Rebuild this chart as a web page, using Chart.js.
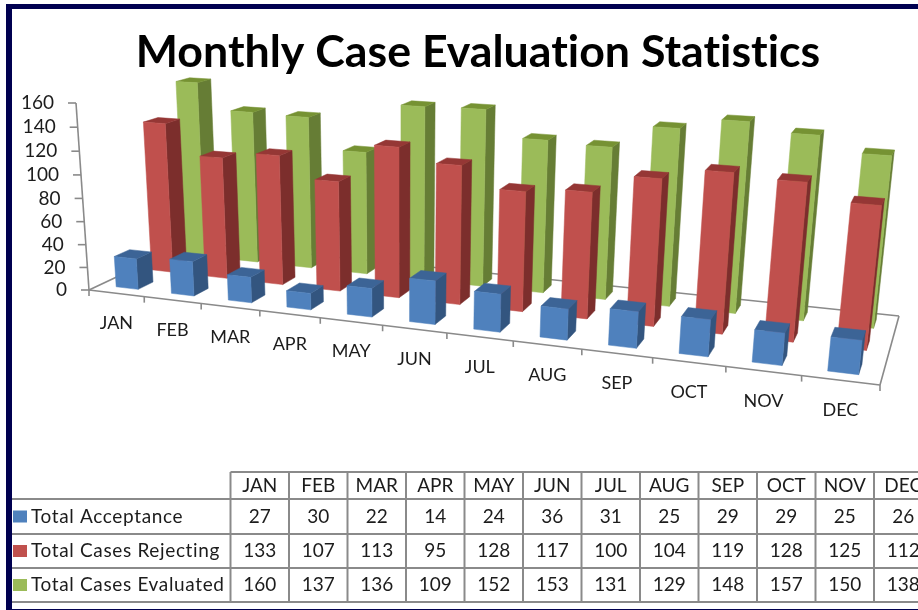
<!DOCTYPE html>
<html>
<head>
<meta charset="utf-8">
<style>html,body{margin:0;padding:0;background:#fff}#w{position:relative;width:918px;height:610px;overflow:hidden}canvas{display:block}</style>
<script src="https://cdn.jsdelivr.net/npm/chart.js@4"></script>
</head>
<body>
<div id="w"><canvas id="c" width="918" height="610"></canvas></div>
<script>
const months = ['JAN','FEB','MAR','APR','MAY','JUN','JUL','AUG','SEP','OCT','NOV','DEC'];
const acceptance = [27,30,22,14,24,36,31,25,29,29,25,26];
const rejecting = [133,107,113,95,128,117,100,104,119,128,125,112];
const evaluated = [160,137,136,109,152,153,131,129,148,157,150,138];
const seriesNames = ['Total Acceptance','Total Cases Rejecting','Total Cases Evaluated'];
const faceColors = ['#4F81BD','#C0504D','#9BBB59'];
const sideColors = ['#33557F','#7C2E2C','#667D35'];
const topColors = ['#3C6496','#953735','#769233'];

const FONT = 'Lato, Carlito, sans-serif';
const TEXT = '#1c1c1c';
const AXIS = '#8a8a8a';

// perspective view of the chart's box: floor corners (front-left, front-right, back-right, back-left)
const Q = {A:[89,290], B:[880,385], C:[899,316], D:[191,242], top:[76,103], c:-0.04};
const view = (() => {
  const {A,B,C,D,top,c} = Q;
  const dx1=B[0]-C[0], dx2=D[0]-C[0], sx=A[0]-B[0]+C[0]-D[0];
  const dy1=B[1]-C[1], dy2=D[1]-C[1], sy=A[1]-B[1]+C[1]-D[1];
  const den=dx1*dy2-dx2*dy1;
  const g=(sx*dy2-dx2*sy)/den, h=(dx1*sy-sx*dy1)/den;
  const ax=B[0]-A[0]+g*B[0], bx=D[0]-A[0]+h*D[0];
  const ay=B[1]-A[1]+g*B[1], by=D[1]-A[1]+h*D[1];
  const ez=top[0]*(1+c)-A[0], fz=top[1]*(1+c)-A[1];
  return (u,d,z)=>{
    const w=1+g*u+h*d+c*z;
    return [(A[0]+ax*u+bx*d+ez*z)/w,(A[1]+ay*u+by*d+fz*z)/w];
  };
})();

const DEPTH_CENTERS = [1/6,1/2,5/6];
const DEPTH_HALF = 0.07;
let activeSeries = 0, activeArea = null;

function poly(ctx,pts,fill){
  ctx.beginPath();
  pts.forEach((p,i)=>i?ctx.lineTo(p[0],p[1]):ctx.moveTo(p[0],p[1]));
  ctx.closePath();
  ctx.fillStyle=fill;
  ctx.fill();
  ctx.strokeStyle=fill;
  ctx.lineWidth=0.5;
  ctx.stroke();
}

// Each bar keeps the position the library's scales gave it, seen through the view above
Chart.BarElement.prototype.draw = function(ctx){
  const a=activeArea, i=activeSeries;
  const u0=(this.x-this.width/2-a.left)/a.width, u1=(this.x+this.width/2-a.left)/a.width;
  const z=(this.base-this.y)/a.height;
  const d0=DEPTH_CENTERS[i]-DEPTH_HALF, d1=DEPTH_CENTERS[i]+DEPTH_HALF;
  poly(ctx,[view(u1,d0,0),view(u1,d1,0),view(u1,d1,z),view(u1,d0,z)],sideColors[i]);
  poly(ctx,[view(u0,d0,z),view(u1,d0,z),view(u1,d1,z),view(u0,d1,z)],topColors[i]);
  poly(ctx,[view(u0,d0,0),view(u1,d0,0),view(u1,d0,z),view(u0,d0,z)],faceColors[i]);
};

function line(ctx,x1,y1,x2,y2){ctx.beginPath();ctx.moveTo(x1,y1);ctx.lineTo(x2,y2);ctx.stroke();}

const box3d = {
  id:'box3d',
  beforeDraw(chart){ chart.ctx.textRendering='optimizeSpeed'; },
  beforeDatasetDraw(chart,args){ activeSeries=args.index; activeArea=chart.chartArea; },
  beforeDatasetsDraw(chart){
    const ctx=chart.ctx, a=chart.chartArea, sy=chart.scales.y, sx=chart.scales.x;
    ctx.save();
    ctx.strokeStyle=AXIS; ctx.lineWidth=1.6;
    const P=(u,d,z)=>view(u,d,z);
    const seg=(p,q)=>line(ctx,p[0],p[1],q[0],q[1]);
    seg(P(0,0,0),P(1,0,0)); seg(P(1,0,0),P(1,1,0)); seg(P(1,1,0),P(0,1,0)); seg(P(0,1,0),P(0,0,0));
    seg(P(0,0,0),P(0,0,1));
    ctx.textAlign='right'; ctx.textBaseline='middle'; ctx.font='19px '+FONT; ctx.fillStyle=TEXT;
    sy.ticks.forEach(t=>{
      const z=(a.bottom-sy.getPixelForValue(t.value))/a.height;
      const p=P(0,0,z);
      line(ctx,p[0]-8,p[1],p[0],p[1]);
      ctx.fillText(String(t.value),p[0]-22,p[1]);
    });
    for(let k=0;k<=months.length;k++){
      const p=P(k/months.length,0,0);
      line(ctx,p[0],p[1],p[0],p[1]+6);
    }
    ctx.textAlign='center'; ctx.font='18px '+FONT;
    months.forEach((m,k)=>{
      const u=(sx.getPixelForValue(k)-a.left)/a.width;
      const p=P(u,0,0);
      ctx.fillText(m,p[0],p[1]+30);
    });
    ctx.restore();
  },
  afterDraw(chart){
    const ctx=chart.ctx;
    ctx.save();
    // data table
    const L=[12,230.5], colW=58.5, rows=[472,499,534,568,602], R=918;
    ctx.strokeStyle=AXIS; ctx.lineWidth=2;
    rows.forEach((y,i)=>line(ctx,i===0?L[1]:L[0],y,R,y));
    for(let k=0;k<=months.length;k++){
      const x=L[1]+k*colW;
      line(ctx,x,rows[0],x,rows[4]);
    }
    ctx.fillStyle=TEXT; ctx.textBaseline='middle'; ctx.textAlign='center'; ctx.font='19px '+FONT;
    const mid=i=>(rows[i]+rows[i+1])/2;
    months.forEach((m,k)=>ctx.fillText(m,L[1]+(k+.5)*colW,mid(0)));
    chart.data.datasets.forEach((ds,i)=>{
      ctx.fillStyle=faceColors[i];
      ctx.fillRect(13,mid(i+1)-6,14,12);
      ctx.fillStyle=TEXT;
      ctx.textAlign='left';
      ctx.letterSpacing='0.65px';
      ctx.fillText(seriesNames[i],31,mid(i+1));
      ctx.letterSpacing='0px';
      ctx.textAlign='center';
      ds.data.forEach((v,k)=>ctx.fillText(String(v),L[1]+(k+.5)*colW,mid(i+1)));
    });
    // frame
    ctx.fillStyle='#000050';
    ctx.fillRect(6,4,912,5);
    ctx.fillRect(6,4,6,606);
    ctx.fillRect(6,609,912,1);
    ctx.restore();
  }
};

new Chart(document.getElementById('c'),{
  type:'bar',
  plugins:[box3d],
  data:{labels:months,datasets:[
    {label:seriesNames[0],data:acceptance,backgroundColor:faceColors[0],clip:false},
    {label:seriesNames[1],data:rejecting,backgroundColor:faceColors[1],clip:false},
    {label:seriesNames[2],data:evaluated,backgroundColor:faceColors[2],clip:false}
  ]},
  options:{
    responsive:false,animation:false,
    layout:{padding:{left:76,right:38,bottom:320,top:0}},
    datasets:{bar:{grouped:false,categoryPercentage:1,barPercentage:0.4}},
    plugins:{
      legend:{display:false},tooltip:{enabled:false},
      title:{display:true,text:'Monthly Case Evaluation Statistics',color:'#000',
        font:{family:FONT,size:44.7,weight:'bold',lineHeight:1.2},padding:{top:26,bottom:28}}
    },
    scales:{
      x:{ticks:{display:false},grid:{display:false},border:{display:false}},
      y:{min:0,max:160,ticks:{display:false,stepSize:20},grid:{display:false},border:{display:false}}
    }
  }
});
</script>
</body>
</html>
